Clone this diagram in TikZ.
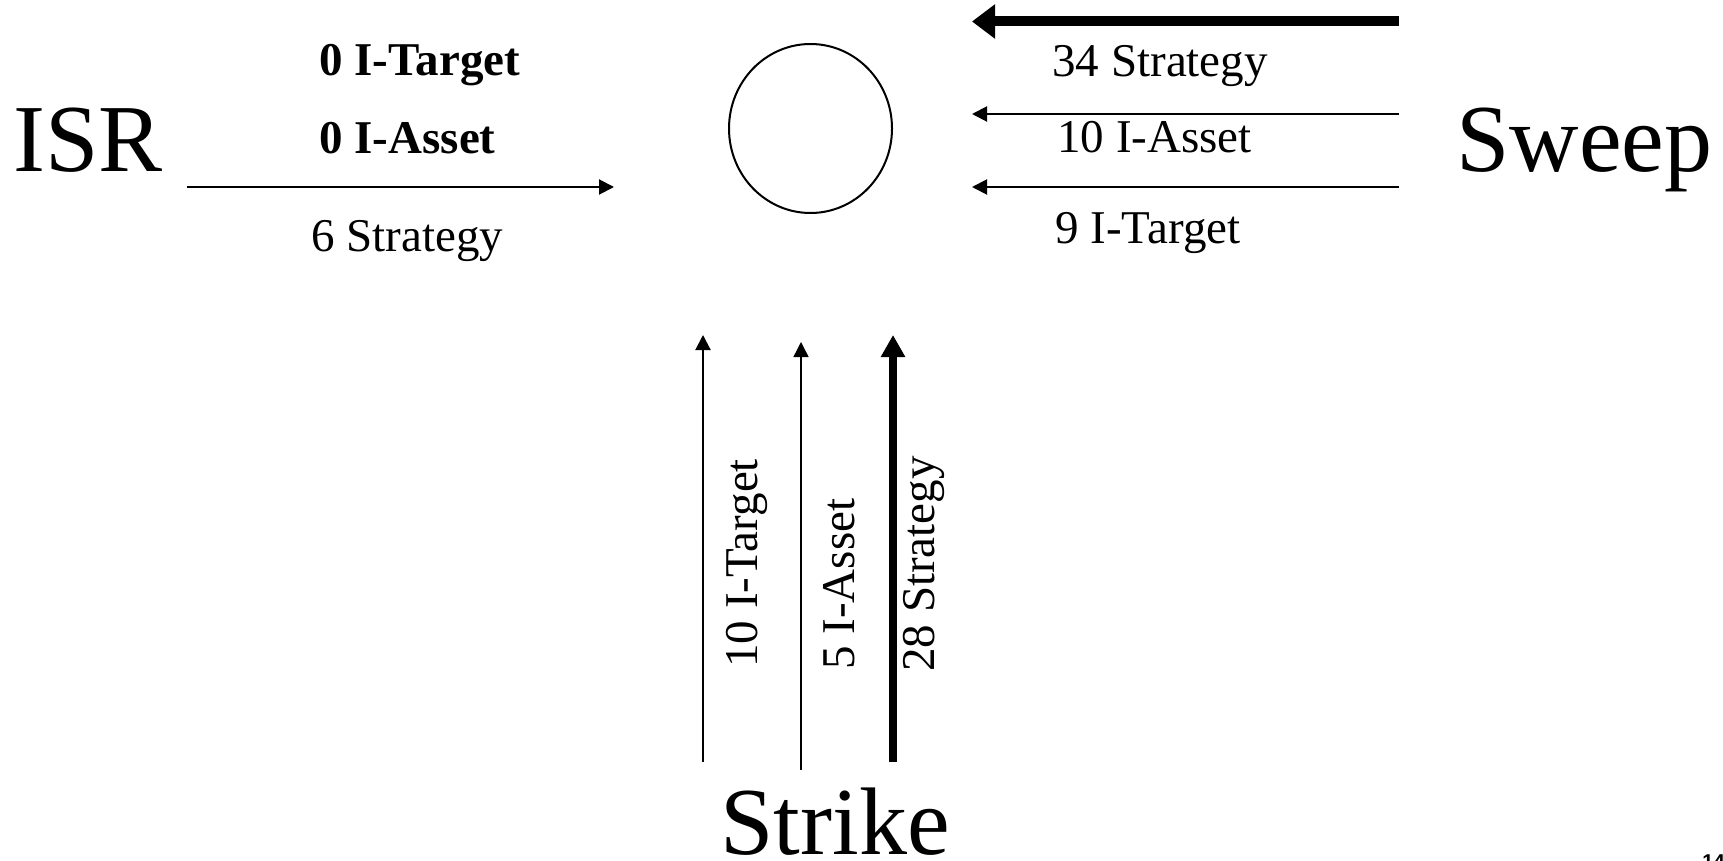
\documentclass[tikz,border=0pt]{standalone}
\usepackage{fontspec}
\setmainfont{Liberation Serif}
\newfontfamily\pgnfont{Liberation Sans}
\usetikzlibrary{arrows.meta,shapes.geometric}
\begin{document}
\begin{tikzpicture}[x=0.5pt,y=-0.5pt,
  big/.style={inner sep=0pt,anchor=base west,font=\fontsize{48}{56}\selectfont},
  lbl/.style={inner sep=0pt,anchor=base west,font=\fontsize{23.5}{28}\selectfont},
  blbl/.style={inner sep=0pt,anchor=base west,font=\fontsize{23.5}{28}\selectfont\bfseries},
  vlbl/.style={lbl,rotate=90},
  thinarrow/.style={line width=1pt,-{Triangle[length=7.5pt,width=7.5pt]}},
  finearrow/.style={line width=0.7pt,-{Triangle[length=7.5pt,width=7.5pt]}},
  fatarrow/.style={line width=5pt,-{Triangle[length=11.5pt,width=16.5pt]}},
  fatvarrow/.style={line width=4pt,-{Triangle[length=11pt,width=11.5pt]}},
  hub/.style={draw,ellipse,line width=1pt,inner sep=0pt,minimum width=81.5pt,minimum height=84.5pt}
]
\useasboundingbox (0,0) rectangle (1723,861);
% main nodes
\node[big] (isr) at (13,172) {ISR};
\node[big] (sweep) at (1456,172) {Sweep};
\node[big] (strike) at (720,854) {Strike};
\node[hub] (hub) at (810.5,128.5) {};
% ISR side
\coordinate (isrA) at (187,187);
\coordinate (isrB) at (614,187);
\draw[thinarrow] (isrA) -- (isrB);
\node[blbl] (l1) at (319,76) {0 I-Target};
\node[blbl] (l2) at (319,154) {0 I-Asset};
\node[lbl] (l3) at (311,251) {6 Strategy};
% Sweep side
\coordinate (swA1) at (1399,21.5);
\coordinate (swB1) at (972,21.5);
\coordinate (swA2) at (1399,114);
\coordinate (swB2) at (972,114);
\coordinate (swA3) at (1399,187);
\coordinate (swB3) at (972,187);
\draw[fatarrow] (swA1) -- (swB1);
\draw[thinarrow] (swA2) -- (swB2);
\draw[thinarrow] (swA3) -- (swB3);
\node[lbl] (r1) at (1052,77) {34 Strategy};
\node[lbl] (r2) at (1057,153) {10 I-Asset};
\node[lbl] (r3) at (1055,244) {9 I-Target};
% Strike side
\coordinate (stA1) at (703,762);
\coordinate (stB1) at (703,335);
\coordinate (stA2) at (801,770);
\coordinate (stB2) at (801,342);
\coordinate (stA3) at (893,762);
\coordinate (stB3) at (893,335);
\draw[thinarrow] (stA1) -- (stB1);
\draw[finearrow] (stA2) -- (stB2);
\draw[fatvarrow] (stA3) -- (stB3);
\node[vlbl] (s1) at (757,668) {10 I-Target};
\node[vlbl] (s2) at (854,670) {5 I-Asset};
\node[vlbl] (s3) at (934,672) {28 Strategy};
% page number
\node[inner sep=0pt,anchor=base west,font=\pgnfont\bfseries\fontsize{10}{12}\selectfont] (pg) at (1702,868) {14};
\end{tikzpicture}
\end{document}
